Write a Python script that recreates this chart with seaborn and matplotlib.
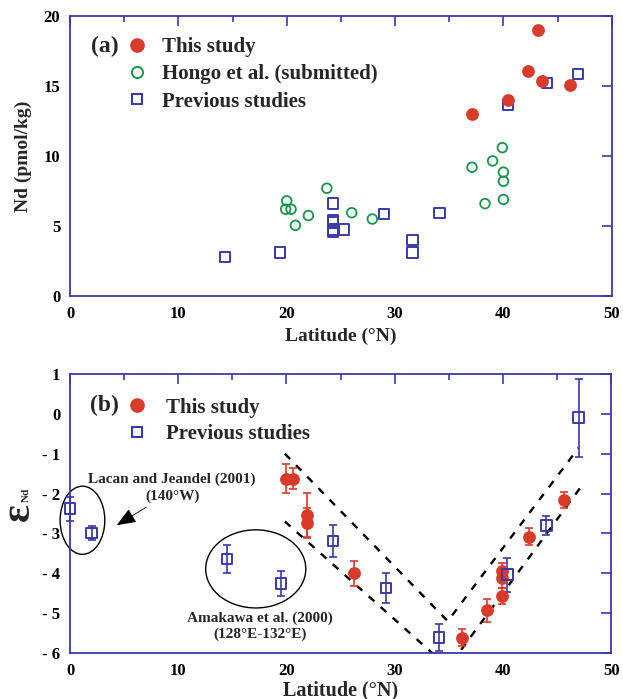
import matplotlib
matplotlib.use("Agg")
import matplotlib.pyplot as plt
from matplotlib.patches import Ellipse
from matplotlib.lines import Line2D
from matplotlib.ticker import MultipleLocator, FuncFormatter
import seaborn as sns
import pandas as pd

sns.set_theme(style="white")
plt.rcParams['font.family'] = ['Liberation Serif', 'DejaVu Serif']
plt.rcParams['font.weight'] = 'bold'
plt.rcParams['axes.unicode_minus'] = False

RED = '#d93b2b'
GREEN = '#17944a'
BLUE = '#3a3aa6'

# ---------------- Panel (a): Nd concentration ----------------
a_this_lat = [37.1, 40.4, 42.3, 43.2, 43.6, 46.1]
a_this_nd = [13.0, 14.0, 16.1, 19.0, 15.35, 15.05]

a_hongo_lat = [20.0, 19.9, 20.4, 20.8, 22.0, 23.7, 26.0, 27.9, 37.1, 38.3, 39.0, 39.9, 40.0, 40.0, 40.0]
a_hongo_nd = [6.8, 6.2, 6.2, 5.05, 5.75, 7.7, 5.95, 5.5, 9.2, 6.6, 9.65, 10.6, 8.85, 8.2, 6.9]

a_prev_lat = [14.3, 19.4, 24.3, 24.3, 24.3, 24.3, 24.3, 25.3, 29.0, 31.6, 31.6, 34.1, 40.4, 44.0, 46.9]
a_prev_nd = [2.8, 3.1, 6.6, 5.45, 5.25, 4.75, 4.55, 4.75, 5.85, 4.0, 3.1, 5.95, 13.65, 15.2, 15.85]

# ---------------- Panel (b): epsilon Nd ----------------
b_this_lat = [20.0, 20.6, 21.9, 21.9, 26.2, 36.2, 38.5, 39.95, 39.95, 39.95, 42.4, 45.6]
b_this_eps = [-1.63, -1.63, -2.53, -2.74, -4.0, -5.62, -4.93, -3.95, -4.12, -4.56, -3.08, -2.16]
b_this_err = [0.36, 0.26, 0.55, 0.38, 0.32, 0.21, 0.28, 0.2, 0.25, 0.2, 0.22, 0.2]

b_prev_lat = [0.0, 2.0, 14.5, 19.5, 24.3, 29.2, 34.1, 40.4, 44.0, 47.0]
b_prev_eps = [-2.38, -2.99, -3.64, -4.26, -3.19, -4.37, -5.61, -4.04, -2.8, -0.1]
b_prev_err = [0.3, 0.18, 0.35, 0.31, 0.4, 0.37, 0.35, 0.42, 0.23, 0.98]

# dashed envelope lines (V shapes)
upper_lat = [19.85, 34.9, 47.0]
upper_eps = [-1.0, -5.2, -0.85]
lower_lat = [19.85, 34.95, 47.3]
lower_eps = [-2.7, -6.36, -1.8]

df_a = pd.concat([
    pd.DataFrame({'lat': a_this_lat, 'nd': a_this_nd, 'src': 'This study'}),
    pd.DataFrame({'lat': a_hongo_lat, 'nd': a_hongo_nd, 'src': 'Hongo et al. (submitted)'}),
    pd.DataFrame({'lat': a_prev_lat, 'nd': a_prev_nd, 'src': 'Previous studies'}),
])

fig = plt.figure(figsize=(6.23, 6.99), dpi=100)
ax1 = fig.add_axes([0.1124, 0.5765, 0.8696, 0.4005])
ax2 = fig.add_axes([0.1124, 0.0658, 0.8686, 0.3992])


def style_axes(ax):
    for sp in ax.spines.values():
        sp.set_color(BLUE)
        sp.set_linewidth(1.3)
        sp.set_visible(True)
    ax.tick_params(which='both', direction='in', top=True, right=True,
                   color=BLUE, width=1.2, labelsize=12, pad=7, labelcolor='black')
    ax.tick_params(which='major', length=7)
    ax.tick_params(which='minor', length=4)
    for lab in ax.get_xticklabels() + ax.get_yticklabels():
        lab.set_fontweight('bold')
    ax.grid(False)


h_red = Line2D([], [], ls='none', marker='o', ms=9.5, mfc=RED, mec=RED)
h_green = Line2D([], [], ls='none', marker='o', ms=8, mfc='none', mec=GREEN, mew=1.4)
h_blue = Line2D([], [], ls='none', marker='s', ms=7.5, mfc='none', mec=BLUE, mew=1.5)

# Panel (a)
sub = df_a[df_a.src == 'This study']
sns.scatterplot(data=sub, x='lat', y='nd', ax=ax1, color=RED, s=85, edgecolor=RED,
                linewidth=0, zorder=4, legend=False)
sub = df_a[df_a.src == 'Hongo et al. (submitted)']
sns.scatterplot(data=sub, x='lat', y='nd', ax=ax1, facecolor='none', edgecolor=GREEN,
                s=48, linewidth=1.3, zorder=3, legend=False)
sub = df_a[df_a.src == 'Previous studies']
sns.scatterplot(data=sub, x='lat', y='nd', ax=ax1, marker='s', facecolor='none',
                edgecolor=BLUE, s=55, linewidth=1.4, zorder=3, legend=False)

ax1.set_xlim(0, 50)
ax1.set_ylim(0, 20)
ax1.xaxis.set_major_locator(MultipleLocator(10))
ax1.xaxis.set_minor_locator(MultipleLocator(5))
ax1.yaxis.set_major_locator(MultipleLocator(5))
ax1.set_xlabel('Latitude (°N)', fontsize=14, fontweight='bold', labelpad=4)
ax1.set_ylabel('Nd (pmol/kg)', fontsize=14, fontweight='bold', labelpad=8)
style_axes(ax1)
ax1.legend([h_red, h_green, h_blue], ['This study', 'Hongo et al. (submitted)', 'Previous studies'],
           loc='upper left', bbox_to_anchor=(0.085, 0.955), frameon=False,
           handletextpad=0.6, labelspacing=0.35, borderaxespad=0,
           handlelength=1.2, prop={'weight': 'bold', 'size': 15})
ax1.text(3.2, 17.8, '(a)', fontsize=17, fontweight='bold', va='center', ha='center')

# Panel (b)
ax2.plot(upper_lat, upper_eps, ls=(0, (3.2, 3.6)), color='black', lw=1.7, zorder=2)
ax2.plot(lower_lat, lower_eps, ls=(0, (3.2, 3.6)), color='black', lw=1.7, zorder=2)

ax2.errorbar(b_this_lat, b_this_eps, yerr=b_this_err, fmt='none', ecolor=RED,
             elinewidth=1.2, capsize=3, capthick=1.2, zorder=3)
ax2.errorbar(b_prev_lat, b_prev_eps, yerr=b_prev_err, fmt='none', ecolor=BLUE,
             elinewidth=1.2, capsize=3, capthick=1.2, zorder=3, clip_on=False)
df_bt = pd.DataFrame({'lat': b_this_lat, 'eps': b_this_eps})
df_bp = pd.DataFrame({'lat': b_prev_lat, 'eps': b_prev_eps})
sns.scatterplot(data=df_bt, x='lat', y='eps', ax=ax2, color=RED, s=85, linewidth=0,
                zorder=4, legend=False)
sns.scatterplot(data=df_bp, x='lat', y='eps', ax=ax2, marker='s', facecolor='none',
                edgecolor=BLUE, s=60, linewidth=1.4, zorder=4, legend=False,
                clip_on=False)

ax2.set_xlim(0, 50)
ax2.set_ylim(-6, 1)
ax2.xaxis.set_major_locator(MultipleLocator(10))
ax2.xaxis.set_minor_locator(MultipleLocator(5))
ax2.yaxis.set_major_locator(MultipleLocator(1))
ax2.yaxis.set_major_formatter(FuncFormatter(lambda t, p: ('- %d' % round(-t)) if t < -0.5 else '%d' % round(t)))
ax2.set_xlabel('Latitude (°N)', fontsize=14.5, fontweight='bold', labelpad=1)
ax2.set_ylabel('')
style_axes(ax2)
ax2.legend([h_red, h_blue], ['This study', 'Previous studies'],
           loc='upper left', bbox_to_anchor=(0.085, 0.945), frameon=False,
           handletextpad=0.8, labelspacing=0.3, borderaxespad=0, handlelength=1.2,
           prop={'weight': 'bold', 'size': 15})
ax2.text(3.2, 0.22, '(b)', fontsize=17, fontweight='bold', va='center', ha='center')

# epsilon Nd label
fig.text(0.030, 0.268, 'ε', fontsize=30, rotation=90, ha='center', va='center')
fig.text(0.043, 0.292, 'Nd', fontsize=8, fontweight='bold', rotation=90, ha='center', va='center')

# ellipses and annotations
ax2.add_patch(Ellipse((1.15, -2.67), 4.13, 1.71, fill=False, ec='black', lw=1.0, clip_on=False))
ax2.add_patch(Ellipse((17.16, -3.89), 9.25, 1.96, fill=False, ec='black', lw=1.0))
ax2.text(9.43, -1.64, 'Lacan and Jeandel (2001)', fontsize=11, fontweight='bold', ha='center', va='center')
ax2.text(9.43, -2.06, '(140°W)', fontsize=11, fontweight='bold', ha='center', va='center')
ax2.annotate('', xy=(4.1, -2.83), xytext=(7.3, -2.3),
             arrowprops=dict(arrowstyle='-|>,head_length=1.0,head_width=0.4', color='black', lw=0.6))
ax2.text(17.54, -5.12, 'Amakawa et al. (2000)', fontsize=11, fontweight='bold', ha='center', va='center')
ax2.text(17.54, -5.52, '(128°E-132°E)', fontsize=11, fontweight='bold', ha='center', va='center')

fig.savefig('out.png', dpi=100)
